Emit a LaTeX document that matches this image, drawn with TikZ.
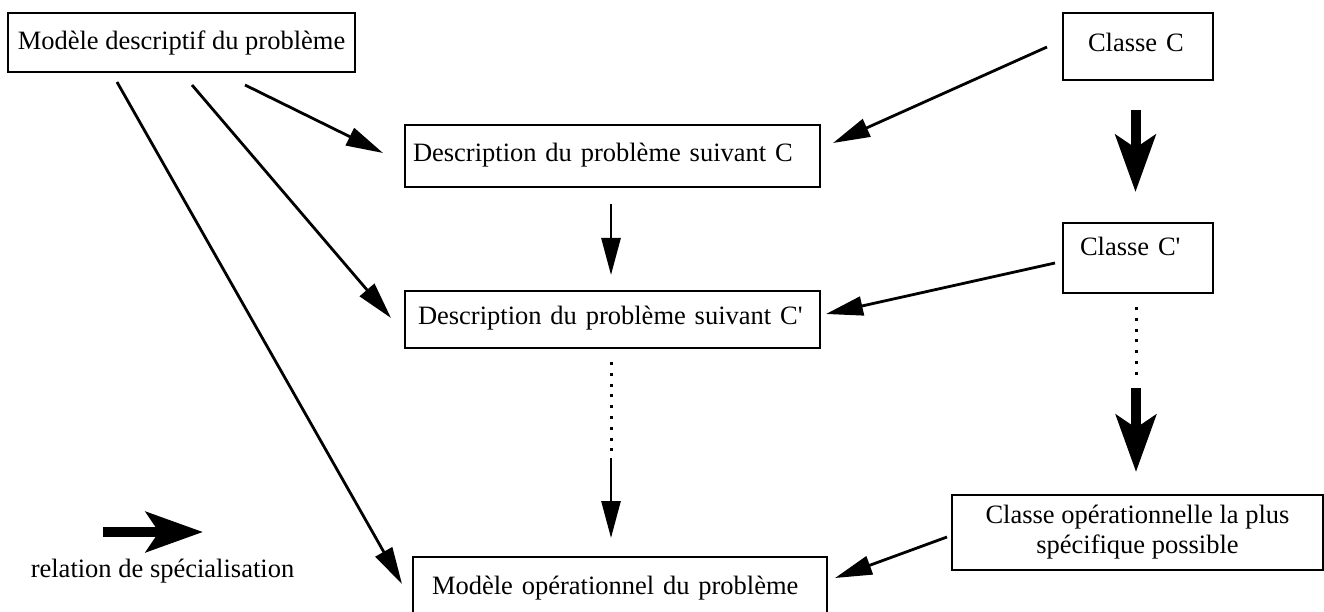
\documentclass[tikz,border=0pt]{standalone}
\usepackage{fontspec}
\setmainfont{Liberation Serif}
\usetikzlibrary{arrows.meta}
\begin{document}
\begin{tikzpicture}[x=1pt,y=-1pt,
  lbl/.style={font=\fontsize{26.5}{30}\selectfont},
  box/.style={lbl, draw, line width=2.8pt, rectangle, inner ysep=0pt},
  thinarrow/.style={line width=2.8pt, -{Triangle[length=37pt,width=19pt]}},
  specarrow/.style={line width=10pt, -{Stealth[length=57pt,width=40pt,inset=13pt]}},
  dotline/.style={line width=3pt, dash pattern=on 3pt off 7.8pt},
]
\useasboundingbox (0,0) rectangle (1324,612);
\clip (0,0) rectangle (1324,612);
\fill[white] (0,0) rectangle (1324,612);

% boxes
\node[box, minimum width=347pt, minimum height=59pt, text height=20pt, text depth=5pt] (mdp) at (181.5,42.5) {Modèle descriptif du problème};
\node[box, minimum height=62pt, text width=399pt, inner xsep=8pt, align=left, text height=18pt, text depth=6pt] (dc) at (612.5,156) {Description du problème suivant C};
\node[box, minimum height=57pt, text width=389pt, inner xsep=13pt, align=left, text height=16pt, text depth=7pt] (dc2) at (612.5,319.5) {Description du problème suivant C\textquotesingle};
\node[box, minimum height=62pt, text width=376pt, inner xsep=19pt, align=left, text height=18pt, text depth=6pt] (mo) at (620,588) {Modèle opérationnel du problème};
\node[box, minimum height=67pt, text width=100pt, inner xsep=25pt, align=left, text height=17pt, text depth=6pt] (cc) at (1138,46.5) {Classe C};
\node[box, minimum height=70pt, text width=116pt, inner xsep=17pt, align=left, text height=8pt, text depth=14pt] (cc2) at (1138,258) {Classe C\textquotesingle};
\node[box, minimum width=371pt, minimum height=75pt, align=center] (cop) at (1137.5,532.5) {Classe opérationnelle la plus\\spécifique possible};

% legend
\node[lbl, anchor=base] (legtxt) at (162.5,577) {relation de spécialisation};
\coordinate (l1) at (103,532);
\coordinate (l2) at (203,532);
\draw[specarrow] (l1) -- (l2);

% connector end points
\coordinate (a1s) at (245,85);   \coordinate (a1e) at (383,153);
\coordinate (a2s) at (192,85);   \coordinate (a2e) at (391,318);
\coordinate (a3s) at (117,82);   \coordinate (a3e) at (402,584);
\coordinate (a4s) at (1047,47);  \coordinate (a4e) at (833,143);
\coordinate (a5s) at (1055,263); \coordinate (a5e) at (826,314);
\coordinate (a6s) at (947,537);  \coordinate (a6e) at (835,578);
\coordinate (a7s) at (611,204);  \coordinate (a7e) at (611,275);
\coordinate (a8s) at (611,362);  \coordinate (a8m) at (611,458); \coordinate (a8e) at (611,538);
\coordinate (a9s) at (1135.5,110); \coordinate (a9e) at (1135.5,192);
\coordinate (a10s) at (1136,307); \coordinate (a10m) at (1136,377);
\coordinate (a10t) at (1136,388); \coordinate (a10e) at (1136,472);

% connectors
\draw[thinarrow] (a1s) -- (a1e);
\draw[thinarrow] (a2s) -- (a2e);
\draw[thinarrow] (a3s) -- (a3e);
\draw[thinarrow] (a4s) -- (a4e);
\draw[thinarrow] (a5s) -- (a5e);
\draw[thinarrow] (a6s) -- (a6e);
\draw[thinarrow] (a7s) -- (a7e);
\draw[dotline] (a8s) -- (a8m);
\draw[thinarrow] (a8m) -- (a8e);
\draw[specarrow] (a9s) -- (a9e);
\draw[dotline] (a10s) -- (a10m);
\draw[specarrow] (a10t) -- (a10e);
\end{tikzpicture}
\end{document}
